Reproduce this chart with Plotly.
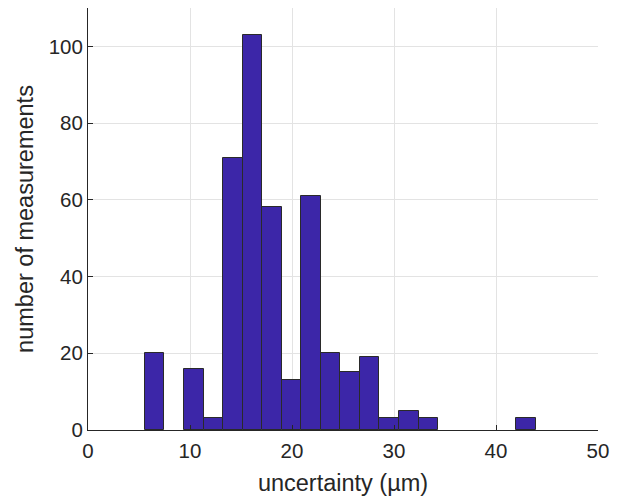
import numpy as np
import plotly.graph_objects as go

bin_start = 5.58
bin_end = 43.9
counts = [20, 0, 16, 3, 71, 103, 58, 13, 61, 20, 15, 19, 3, 5, 3, 0, 0, 0, 0, 3]
x_ticks = [0, 10, 20, 30, 40, 50]
y_ticks = [0, 20, 40, 60, 80, 100]

edges = np.linspace(bin_start, bin_end, len(counts) + 1)
centers = (edges[:-1] + edges[1:]) / 2
width = edges[1] - edges[0]
# empty bins are not drawn
mask = np.array(counts) > 0

fig = go.Figure(go.Bar(
    x=centers[mask], y=np.array(counts)[mask], width=width,
    marker=dict(color="#3C26A8", line=dict(color="#2a2a2a", width=1)),
))

font = "Liberation Sans, Arial, sans-serif"
fig.update_layout(
    width=619, height=500,
    margin=dict(l=88, r=21, t=8, b=70),
    plot_bgcolor="white", paper_bgcolor="white",
    showlegend=False, bargap=0,
    font=dict(family=font, size=20, color="#262626"),
)
fig.update_xaxes(
    range=[0, 50], tickvals=x_ticks, showgrid=True, gridcolor="#E3E3E3", gridwidth=1,
    showline=True, linecolor="#262626", linewidth=1, ticks="inside", ticklen=5,
    tickcolor="#262626", zeroline=False, ticklabelstandoff=2,
    title=dict(text="uncertainty (µm)", font=dict(size=23.5), standoff=13),
    tickfont=dict(size=20.5),
)
fig.update_yaxes(
    range=[0, 110], tickvals=y_ticks, showgrid=True, gridcolor="#E3E3E3", gridwidth=1,
    showline=True, linecolor="#262626", linewidth=1, ticks="inside", ticklen=5,
    tickcolor="#262626", zeroline=False,
    title=dict(text="number of measurements", font=dict(size=23.5), standoff=8),
    tickfont=dict(size=20.5),
)
fig.write_html("out.html")
